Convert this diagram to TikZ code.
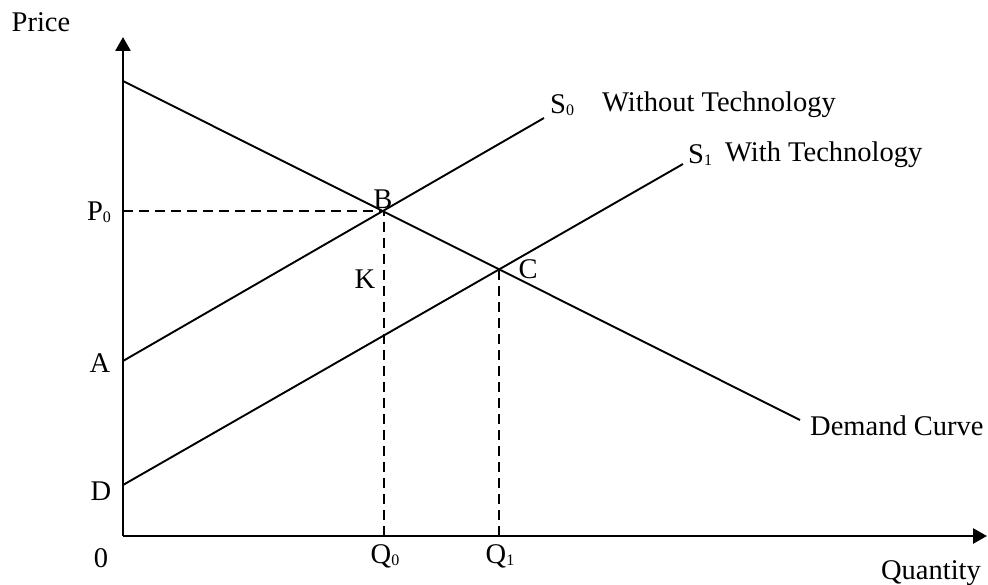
\documentclass[tikz,border=0pt]{standalone}
\usepackage{fontspec}
\setmainfont{Liberation Serif}
\usetikzlibrary{arrows.meta}
\newcommand{\mysub}[1]{\raisebox{-0.15ex}{\fontsize{16}{16}\selectfont #1}}
\begin{document}
\begin{tikzpicture}[x=1pt,y=-1pt,
  axisline/.style={line width=2.7pt,-{Triangle[length=14pt,width=15pt]}},
  curve/.style={line width=1.9pt},
  guide/.style={line width=1.9pt,dash pattern=on 10pt off 6pt},
  lbl/.style={inner sep=0pt,font=\fontsize{28.5}{33}\selectfont}]
\useasboundingbox (0,0) rectangle (988,585);
% key points
\coordinate (O) at (123,536);
\coordinate (Ytop) at (123,37);
\coordinate (Xend) at (987,536);
\coordinate (Apt) at (123,361);
\coordinate (Dpt) at (123,485);
\coordinate (Bpt) at (384,211);
\coordinate (Cpt) at (499,269);
\coordinate (DemS) at (123,81);
\coordinate (DemE) at (800,420);
\coordinate (S0E) at (544,118);
\coordinate (S1E) at (683,164);
\coordinate (P0pt) at (123,211);
\coordinate (Q0pt) at (384,536);
\coordinate (Q1pt) at (499,536);
% axes
\draw[axisline] (O) -- (Ytop);
\draw[axisline] (O) -- (Xend);
% curves
\draw[curve] (DemS) -- (DemE);
\draw[curve] (Apt) -- (S0E);
\draw[curve] (Dpt) -- (S1E);
% guides
\draw[guide] (P0pt) -- (Bpt);
\draw[guide] (Q0pt) -- (Bpt);
\draw[guide] (Q1pt) -- (Cpt);
% labels
\node[lbl] (price) at (41,22) {Price};
\node[lbl] (p0) at (99,212) {P\mysub{0}};
\node[lbl] (la) at (100,363) {A};
\node[lbl] (ld) at (101,491) {D};
\node[lbl] (l0) at (101,558) {0};
\node[lbl] (q0) at (385,556) {Q\mysub{0}};
\node[lbl] (q1) at (500,556) {Q\mysub{1}};
\node[lbl] (qty) at (931,573) {Quantity};
\node[lbl] (lb) at (383,199) {B};
\node[lbl] (lk) at (365,279) {K};
\node[lbl] (lc) at (528,269) {C};
\node[lbl,anchor=west] (s0) at (550,105) {S\mysub{0}};
\node[lbl,anchor=west] (wo) at (602,105) {Without Technology};
\node[lbl,anchor=west] (s1) at (688,155) {S\mysub{1}};
\node[lbl,anchor=west] (wi) at (725,155) {With Technology};
\node[lbl,anchor=west] (dc) at (810,426) {Demand Curve};
\end{tikzpicture}
\end{document}
